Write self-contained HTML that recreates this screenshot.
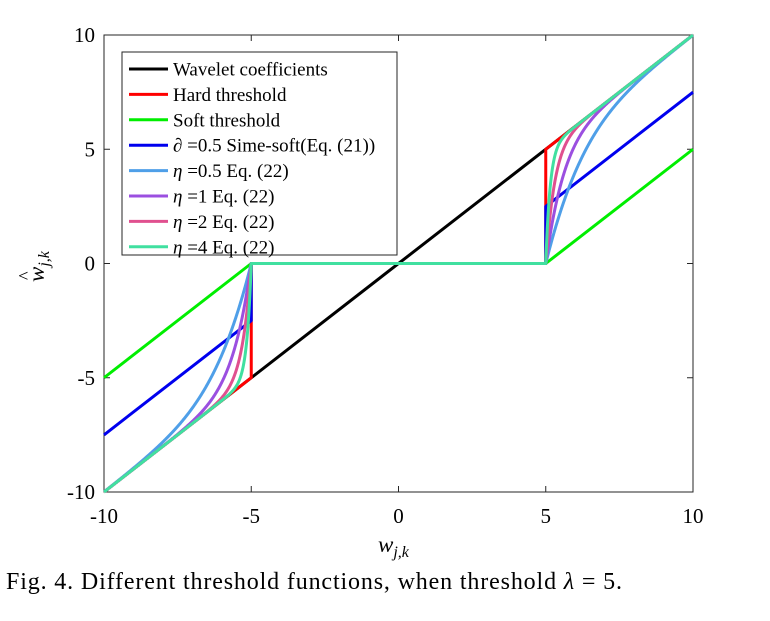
<!DOCTYPE html>
<html><head><meta charset="utf-8"><style>
body{margin:0;background:#fff;width:770px;height:616px;overflow:hidden;font-family:"Liberation Serif",serif}
svg text{font-family:"Liberation Serif",serif}
</style></head><body>
<svg id="chart" width="770" height="616" viewBox="0 0 770 616" xmlns="http://www.w3.org/2000/svg">
<rect x="104" y="35" width="589" height="457" fill="#fff" stroke="#262626" stroke-width="1"/>
<g id="ticks"></g>
<g id="series"></g>
<g id="legend"></g>
<text x="378" y="552" font-size="23" font-style="italic">w<tspan font-size="16" dy="5">j,k</tspan></text>
<g transform="translate(44,282) rotate(-90)"><text x="0" y="0" font-size="23" font-style="italic">w<tspan font-size="16" dy="5">j,k</tspan></text><text x="2" y="-13" font-size="18">^</text></g>
<text x="6" y="589" font-size="24" textLength="616" lengthAdjust="spacing">Fig. 4.  Different threshold functions, when threshold <tspan font-style="italic">λ</tspan> = 5.</text>
</svg>
<script>
const xTicks=[-10,-5,0,5,10];
const yTicks=[-10,-5,0,5,10];
const lambda=5;
const semiAlpha=[0.5];
const etas=[0.5,1,2,4];
const etaColors=['#4f9fe8','#9b4fe0','#e0508f','#40e0a0'];
const legendLabels=['Wavelet coefficients','Hard threshold','Soft threshold','∂ =0.5 Sime-soft(Eq. (21))','η =0.5 Eq. (22)','η =1 Eq. (22)','η =2 Eq. (22)','η =4 Eq. (22)'];
const legendColors=['#000','#ff0000','#00ee00','#0000ee'].concat(etaColors);
const X0=104,X1=693,Y0=492,Y1=35;
const xs=v=>X0+(v+10)/20*(X1-X0);
const ys=v=>Y0-(v+10)/20*(Y0-Y1);
const NS='http://www.w3.org/2000/svg';
const tg=document.getElementById('ticks'),sg=document.getElementById('series'),lg=document.getElementById('legend');
function mk(t,a,p){const e=document.createElementNS(NS,t);for(const k in a)e.setAttribute(k,a[k]);p.appendChild(e);return e;}
xTicks.forEach(v=>{
 const l=mk('line',{x1:xs(v),x2:xs(v),y1:Y0,y2:Y0-6,stroke:'#262626'},tg);
 
 
 const l2=mk('line',{x1:xs(v),x2:xs(v),y1:Y1,y2:Y1+6,stroke:'#262626'},tg);
 
 
 const t=mk('text',{x:xs(v),y:523,'font-size':21,'text-anchor':'middle'},tg);t.textContent=v;
 
 
});
yTicks.forEach(v=>{
 const l=mk('line',{x1:X0,x2:X0+6,y1:ys(v),y2:ys(v),stroke:'#262626'},tg);
 
 
 const l2=mk('line',{x1:X1,x2:X1-6,y1:ys(v),y2:ys(v),stroke:'#262626'},tg);
 
 
 const t=mk('text',{x:95,y:ys(v)+7,'font-size':21,'text-anchor':'end'},tg);t.textContent=v;
 
 
});
function sample(f){const pts=[];for(let i=0;i<=2000;i++){const w=-10+i*0.01;pts.push([w,f(w)]);}return pts;}
function draw(pts,c,name){
 const d=pts.map((p,i)=>(i?'L':'M')+xs(p[0]).toFixed(2)+' '+ys(p[1]).toFixed(2)).join('');
 const p=mk('path',{d:d,fill:'none',stroke:c,'stroke-width':3,'stroke-linejoin':'round'},sg);
 
 
}
const sgn=Math.sign;
draw([[-10,-10],[10,10]],'#000','wavelet-coefficients-line');
draw([[-10,-10],[-lambda,-lambda],[-lambda,0],[lambda,0],[lambda,lambda],[10,10]],'#ff0000','hard-threshold-line');
draw([[-10,-10+lambda],[-lambda,0],[lambda,0],[10,10-lambda]],'#00ee00','soft-threshold-line');
const a=semiAlpha[0];
draw([[-10,-10+a*lambda],[-lambda,-lambda+a*lambda],[-lambda,0],[lambda,0],[lambda,lambda-a*lambda],[10,10-a*lambda]],'#0000ee','semi-soft-line');
etas.forEach((eta,i)=>{
 draw(sample(w=>{const m=Math.abs(w);return m<=lambda?0:sgn(w)*(m-lambda*Math.exp(-eta*(m*m-lambda*lambda)/6));}),etaColors[i],'eta-'+eta+'-line');
});
const lb=mk('rect',{x:122,y:52,width:275,height:203,fill:'#fff',stroke:'#262626','stroke-width':1},lg);


legendLabels.forEach((s,i)=>{
 const y=69+i*25.4;
 const l=mk('line',{x1:129,x2:168,y1:y,y2:y,stroke:legendColors[i],'stroke-width':3},lg);
 
 
 const t=mk('text',{x:173,y:y+6.5,'font-size':19},lg);
 const m=s.match(/^(∂|η)(.*)$/);
 if(m){const ts=mk('tspan',{'font-style':'italic'},t);ts.textContent=m[1];const r=mk('tspan',{},t);r.textContent=m[2];}
 else t.textContent=s;
 
 
});
</script>
</body></html>
